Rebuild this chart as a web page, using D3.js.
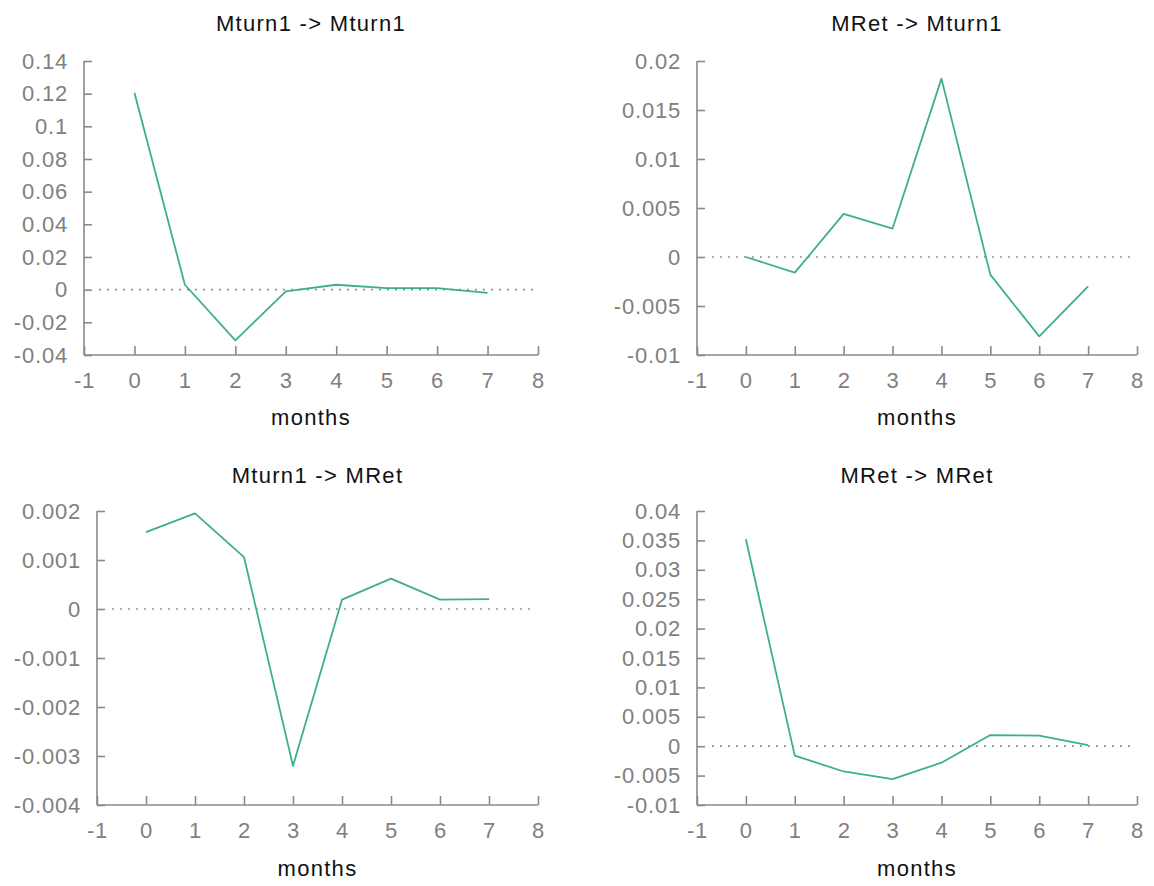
<!DOCTYPE html>
<html>
<head>
<meta charset="utf-8">
<script src="https://cdn.jsdelivr.net/npm/d3@7"></script>
<style>
  html, body { margin: 0; padding: 0; background: #fff; }
  svg { display: block; font-family: "Liberation Sans", Arial, Helvetica, sans-serif; }
</style>
</head>
<body>
<svg id="chart" width="1154" height="886"></svg>
<script>
// ---- data ----
const months = [0, 1, 2, 3, 4, 5, 6, 7];
const xTicks = [-1, 0, 1, 2, 3, 4, 5, 6, 7, 8];

const titles = ["Mturn1 -> Mturn1", "MRet -> Mturn1", "Mturn1 -> MRet", "MRet -> MRet"];

const mturn1ToMturn1 = [0.1205, 0.003, -0.031, -0.001, 0.003, 0.001, 0.001, -0.002];
const mretToMturn1   = [0.0, -0.0016, 0.0044, 0.0029, 0.0182, -0.0018, -0.0081, -0.0030];
const mturn1ToMret   = [0.00157, 0.00195, 0.00106, -0.00320, 0.00019, 0.00062, 0.00019, 0.00020];
const mretToMret     = [0.0352, -0.0016, -0.0043, -0.0056, -0.0028, 0.0019, 0.0018, 0.0002];

const yTicks1 = [-0.04, -0.02, 0, 0.02, 0.04, 0.06, 0.08, 0.1, 0.12, 0.14];
const yTicks2 = [-0.01, -0.005, 0, 0.005, 0.01, 0.015, 0.02];
const yTicks3 = [-0.004, -0.003, -0.002, -0.001, 0, 0.001, 0.002];
const yTicks4 = [-0.01, -0.005, 0, 0.005, 0.01, 0.015, 0.02, 0.025, 0.03, 0.035, 0.04];

const seriesList = [mturn1ToMturn1, mretToMturn1, mturn1ToMret, mretToMret];
const yTickList = [yTicks1, yTicks2, yTicks3, yTicks4];

// ---- layout ----
const panels = [
  { left: 84,  right: 538,  top: 61,  bottom: 355, titleY: 31,  labelY: 425 },
  { left: 697, right: 1137, top: 61,  bottom: 355, titleY: 31,  labelY: 425 },
  { left: 97,  right: 538,  top: 511, bottom: 805, titleY: 483, labelY: 876 },
  { left: 697, right: 1137, top: 511, bottom: 805, titleY: 483, labelY: 876 }
];

const lineColor = "#3db088";
const axisColor = "#8a8a8a";
const tickTextColor = "#808080";
const fontSize = 22;
const tickSpacing = "0.8px";
const labelSpacing = "1.3px";

const svg = d3.select("#chart");
const fmt = v => (v === 0 ? "0" : String(+v.toPrecision(6)));

panels.forEach((p, i) => {
  const ticks = yTickList[i];
  const x = d3.scaleLinear().domain([xTicks[0], xTicks[xTicks.length - 1]]).range([p.left, p.right]);
  const y = d3.scaleLinear().domain([ticks[0], ticks[ticks.length - 1]]).range([p.bottom, p.top]);
  const g = svg.append("g");

  // zero dotted line
  g.append("line")
    .attr("x1", p.left + 15).attr("x2", p.right - 4)
    .attr("y1", y(0)).attr("y2", y(0))
    .attr("stroke", "#808080").attr("stroke-width", 1.7)
    .attr("stroke-dasharray", "1.7 6.3");

  // y axis
  const yAxis = d3.axisLeft(y).tickValues(ticks).tickSize(-8).tickPadding(16).tickFormat(fmt);
  const ya = g.append("g").attr("transform", `translate(${p.left},0)`).call(yAxis);
  // x axis
  const xAxis = d3.axisBottom(x).tickValues(xTicks).tickSize(-9).tickPadding(33).tickFormat(d => String(d));
  const xa = g.append("g").attr("transform", `translate(0,${p.bottom})`).call(xAxis);

  [ya, xa].forEach(a => {
    a.select(".domain").attr("stroke", axisColor).attr("stroke-width", 1.6);
    a.selectAll(".tick line").attr("stroke", axisColor).attr("stroke-width", 1.6);
    a.selectAll(".tick text").attr("fill", tickTextColor)
      .attr("font-size", fontSize)
      .attr("letter-spacing", tickSpacing)
      .attr("font-family", "Liberation Sans, Arial, sans-serif");
  });
  ya.select(".domain").attr("d", `M0,${p.top}V${p.bottom}`);
  xa.select(".domain").attr("d", `M${p.left},0H${p.right}`);
  xa.selectAll(".tick text").attr("dy", "0");

  // line
  const line = d3.line().x((d, j) => x(months[j])).y(d => y(d));
  g.append("path")
    .datum(seriesList[i])
    .attr("d", line)
    .attr("fill", "none")
    .attr("stroke", lineColor)
    .attr("stroke-width", 1.8)
    .attr("stroke-linejoin", "round");

  // title
  g.append("text")
    .attr("x", (p.left + p.right) / 2)
    .attr("y", p.titleY)
    .attr("text-anchor", "middle")
    .attr("font-size", fontSize)
    .attr("letter-spacing", labelSpacing)
    .attr("fill", "#111")
    .text(titles[i]);

  // x label
  g.append("text")
    .attr("x", (p.left + p.right) / 2)
    .attr("y", p.labelY)
    .attr("text-anchor", "middle")
    .attr("font-size", fontSize)
    .attr("letter-spacing", labelSpacing)
    .attr("fill", "#111")
    .text("months");
});
</script>
</body>
</html>
